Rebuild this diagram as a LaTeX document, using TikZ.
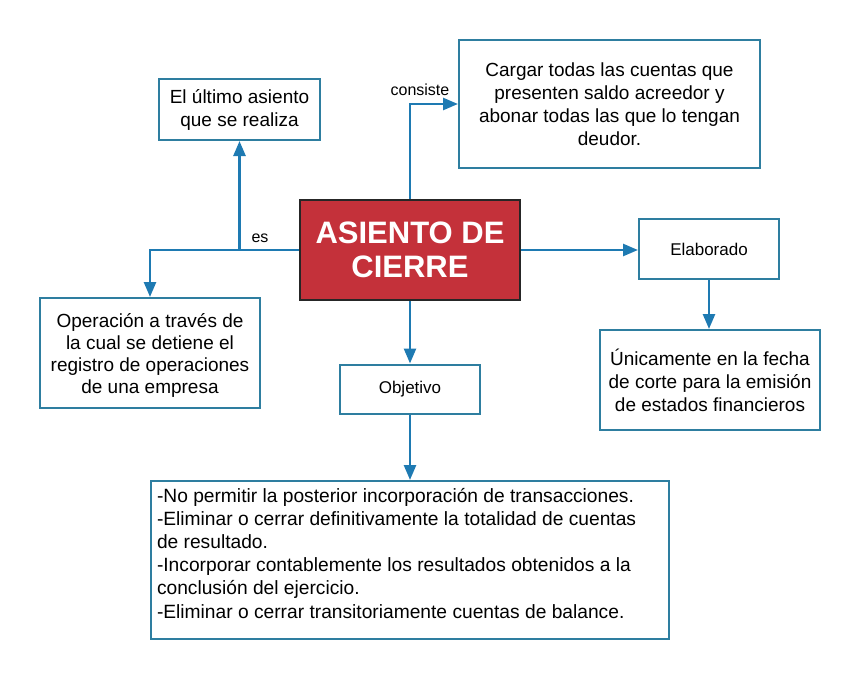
\documentclass[tikz,border=0pt]{standalone}
\usepackage{fontspec}
\setmainfont{Liberation Sans}
\usetikzlibrary{arrows.meta,positioning,calc}
\definecolor{borde}{RGB}{46,126,160}
\definecolor{flecha}{RGB}{30,122,178}
\definecolor{rojo}{RGB}{196,49,58}
\tikzset{
    caja/.style={
        rectangle,
        draw=borde,
        line width=2pt,
        align=center,
        inner sep=4pt,
        font=\fontsize{19}{23}\selectfont,
    },
    central/.style={
        rectangle,
        draw=black!85,
        fill=rojo,
        line width=2pt,
        text=white,
        align=center,
        minimum width=220pt,
        minimum height=100pt,
        font=\fontsize{31}{34}\selectfont\bfseries,
    },
    etiqueta/.style={
        font=\fontsize{16}{19}\selectfont,
        inner sep=0pt,
    },
    conn/.style={
        draw=flecha,
        line width=2.5pt,
        -{Triangle[length=15pt,width=12pt]},
    },
  }

\begin{document}
\begin{tikzpicture}[x=1pt,y=-1pt]
              \useasboundingbox (0,0) rectangle (860,680);
              \node [central] (cierre) at (410,250) {ASIENTO DE\\CIERRE};
              \node [caja,minimum width=161pt,minimum height=61pt] (ultimo) at (239.5,109.5) {El último asiento\\que se realiza};
              \node [caja,minimum width=301pt,minimum height=128pt] (cargar) at (609.5,104) {Cargar todas las cuentas que\\presenten saldo acreedor y\\abonar todas las que lo tengan\\deudor.};
              \node [caja,minimum width=220pt,minimum height=110pt,font=\fontsize{19}{22}\selectfont] (operacion) at (150,353) {\\[-4pt]Operación a través de\\la cual se detiene el\\registro de operaciones\\de una empresa};
              \node [caja,minimum width=140pt,minimum height=60pt,font=\fontsize{17}{20}\selectfont] (elaborado) at (709,249) {Elaborado};
              \node [caja,minimum width=220pt,minimum height=100pt] (unicamente) at (710,380) {Únicamente en la fecha\\de corte para la emisión\\de estados financieros};
              \node [caja,minimum width=140pt,minimum height=49pt,font=\fontsize{17}{20}\selectfont] (objetivo) at (410,389) {Objetivo};
              \node [caja,font=\fontsize{19.2}{23.2}\selectfont,inner xsep=6pt,inner ysep=4pt] (fines) at (410,560) {\parbox[c][150pt][t]{506pt}{\raggedright\vspace*{3pt}
                -No permitir la posterior incorporación de transacciones.\\
                -Eliminar o cerrar definitivamente la totalidad de cuentas\\
                de resultado.\\
                -Incorporar contablemente los resultados obtenidos a la\\
                conclusión del ejercicio.\\
                -Eliminar o cerrar transitoriamente cuentas de balance.}};

              \node [etiqueta] (es) at (260,238) {es};
              \node [etiqueta] (consiste) at (420,90) {consiste};

              \draw [conn] (cierre.west) -| (operacion.north);
              \draw [conn] (cierre.west -| ultimo.south) -- (ultimo.south);
              \draw [conn] (cierre.north) |- (cargar.west);
              \draw [conn] (cierre.east) -- (cierre.east -| elaborado.west);
              \draw [conn] (elaborado.south) -- (elaborado.south |- unicamente.north);
              \draw [conn] (cierre.south) -- (objetivo.north);
              \draw [conn] (objetivo.south) -- (fines.north);

            \end{tikzpicture}
\end{document}
